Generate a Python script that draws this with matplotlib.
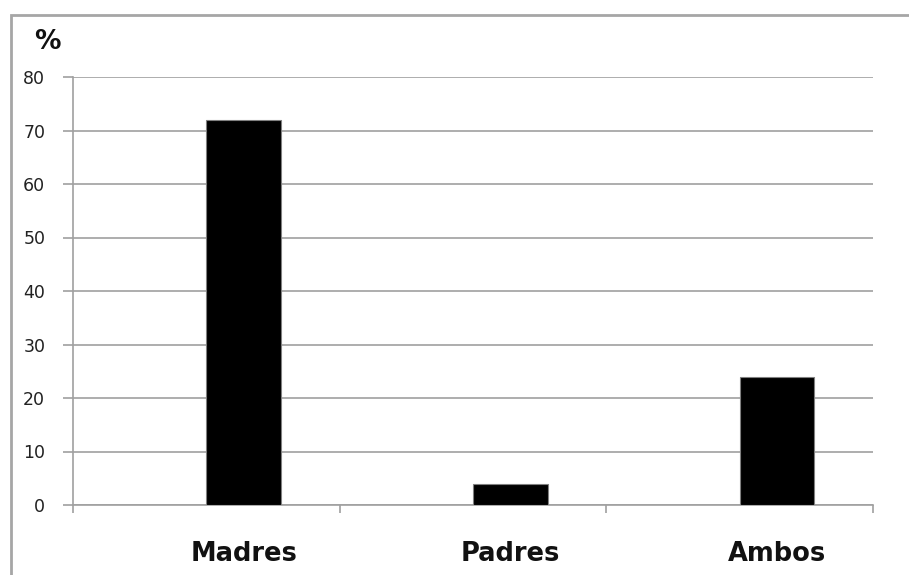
import matplotlib.pyplot as plt
from matplotlib.patches import Rectangle

categories = ['Madres', 'Padres', 'Ambos']
values = [72, 4, 24]
y_ticks = [0, 10, 20, 30, 40, 50, 60, 70, 80]

W, H = 909, 575
fig = plt.figure(figsize=(W / 100, H / 100), dpi=100)
fig.set_facecolor('white')

# outer chart frame (cut off at right and bottom)
fig.patches.append(Rectangle((10.5 / W, -0.05), 1.2, 1.05 - 14.5 / H,
                             transform=fig.transFigure, fill=False,
                             edgecolor='#a6a6a6', linewidth=2))

ax = fig.add_axes([73 / W, 1 - 505 / H, 800 / W, 428 / H])

# excel-style: bar sits right of the category centre
bar_w = 0.28
xs = [i + bar_w / 2 for i in range(len(categories))]
ax.bar(xs, values, width=bar_w, color='black', edgecolor='#808080',
       linewidth=0.8, zorder=3)

ax.set_xlim(-0.5, len(categories) - 0.5)
ax.set_ylim(0, 80)
ax.set_yticks(y_ticks)
ax.set_yticklabels([str(v) for v in y_ticks], fontsize=12.5, color='#222222')
ax.yaxis.grid(True, color='#a0a0a0', linewidth=1.2)
ax.set_axisbelow(True)

ax.set_xticks([i - 0.5 for i in range(len(categories) + 1)])
ax.set_xticklabels([])
ax.set_xticks(xs, minor=True)
ax.set_xticklabels(categories, minor=True, fontsize=18.5, fontweight='bold',
                   color='#111111')
ax.tick_params(axis='x', which='minor', length=0, pad=26)
ax.tick_params(axis='x', which='major', length=6, color='#a0a0a0', width=1.2)
ax.tick_params(axis='y', length=7, color='#a0a0a0', width=1.2, pad=13)

for s in ['top', 'right']:
    ax.spines[s].set_visible(False)
for s in ['left', 'bottom']:
    ax.spines[s].set_color('#a0a0a0')
    ax.spines[s].set_linewidth(1.2)

fig.text(34 / W, 1 - 49 / H, '%', fontsize=19, fontweight='bold',
         color='#111111')

plt.savefig('out.png', dpi=100, facecolor='white')
